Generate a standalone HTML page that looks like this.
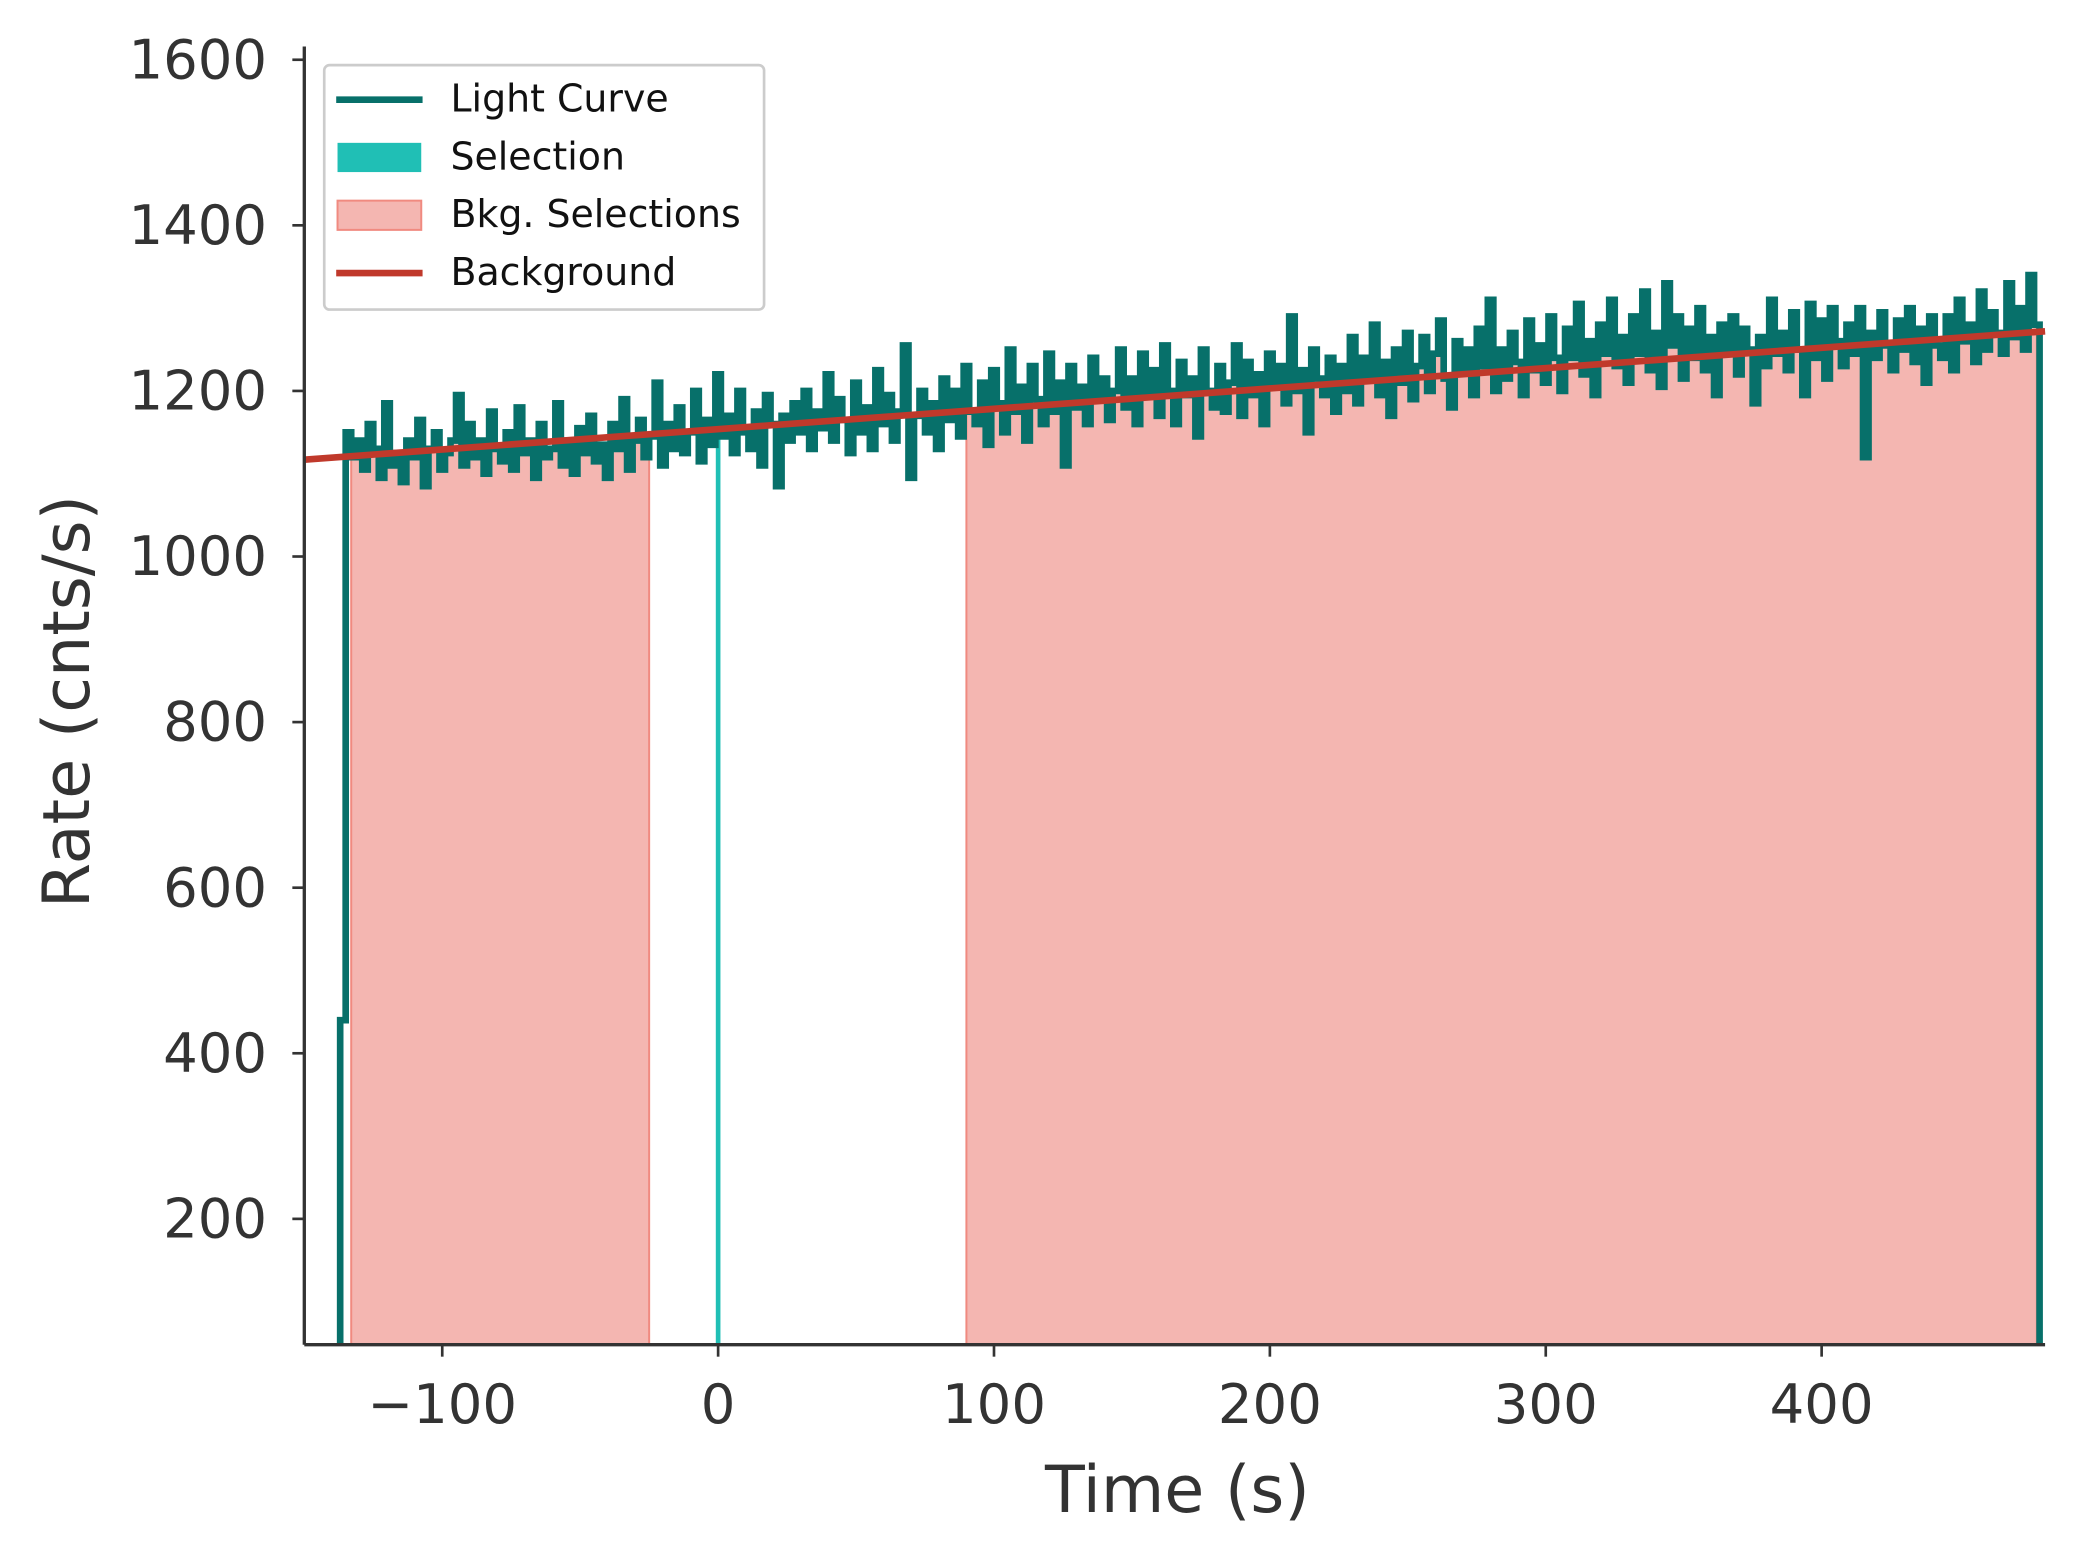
<!DOCTYPE html>
<html><head><meta charset="utf-8"><style>
html,body{margin:0;padding:0;background:#fff;}
svg{display:block;font-family:"DejaVu Sans","Liberation Sans",sans-serif;}
</style></head><body>
<svg id="chart" width="2073" height="1552" viewBox="0 0 1560 1168" preserveAspectRatio="none" xmlns="http://www.w3.org/2000/svg">
<g id="plot"></g>
<g id="axes"></g>
<g id="legend"></g>
</svg>
<script>
const startTime = -135;
const binWidth = 2;
const leadTime = -137;
const leadRate = 440;
const rates = [
1150,1120,1140,1105,1160,1130,1095,1185,1110,1125,
1090,1140,1120,1165,1085,1130,1150,1105,1125,1140,
1195,1110,1160,1120,1140,1100,1175,1130,1115,1150,
1105,1180,1125,1140,1095,1160,1120,1130,1185,1110,
1140,1100,1155,1125,1170,1115,1135,1095,1160,1130,
1190,1105,1140,1165,1120,1145,1210,1110,1160,1130,
1180,1125,1150,1200,1115,1165,1135,1220,1145,1170,
1125,1200,1150,1130,1175,1110,1195,1160,1085,1170,
1140,1185,1150,1200,1130,1175,1155,1220,1140,1190,
1165,1125,1210,1150,1180,1130,1225,1160,1195,1140,
1175,1255,1095,1170,1200,1150,1185,1130,1215,1165,
1200,1145,1230,1175,1160,1210,1135,1225,1185,1150,
1250,1175,1205,1140,1230,1190,1160,1245,1175,1210,
1110,1230,1180,1205,1160,1240,1190,1215,1165,1200,
1250,1180,1215,1160,1245,1195,1225,1170,1255,1200,
1160,1235,1195,1215,1145,1250,1200,1180,1230,1175,
1210,1255,1170,1235,1195,1220,1160,1245,1205,1230,
1185,1290,1200,1225,1150,1250,1215,1195,1240,1175,
1230,1200,1265,1185,1240,1215,1280,1195,1235,1170,
1250,1210,1270,1190,1230,1265,1200,1245,1285,1215,
1180,1260,1225,1250,1195,1275,1230,1310,1200,1250,
1215,1270,1235,1195,1285,1225,1255,1210,1290,1240,
1200,1275,1240,1305,1220,1260,1195,1280,1245,1310,
1230,1265,1210,1290,1245,1320,1225,1270,1205,1330,
1255,1290,1215,1275,1240,1300,1225,1265,1195,1280,
1245,1290,1220,1275,1250,1185,1265,1230,1310,1245,
1270,1225,1295,1250,1195,1305,1240,1285,1215,1300,
1260,1230,1280,1245,1300,1120,1270,1240,1295,1255,
1225,1285,1250,1300,1235,1275,1210,1290,1255,1240,
1290,1225,1310,1260,1280,1235,1320,1250,1295,1270,
1245,1330,1265,1300,1250,1340,1280];
const bkgSelections = [[-133,-25],[90,478]];
const selectionTime = [0];
const backgroundLine = [[-150,1117],[481,1272]];
const xTicks = [-100,0,100,200,300,400];
const xTickLabels = ["\u2212100","0","100","200","300","400"];
const yTicks = [200,400,600,800,1000,1200,1400,1600];
const yTickLabels = ["200","400","600","800","1000","1200","1400","1600"];

const L=229,R=1539,B=1012,T=35;
const xMin=-150,xMax=481,yMin=48,yMax=1616;
const X=t=>L+(t-xMin)/(xMax-xMin)*(R-L);
const Y=v=>B-(v-yMin)/(yMax-yMin)*(B-T);
const NS="http://www.w3.org/2000/svg";
function mk(tag,attrs,parent){const e=document.createElementNS(NS,tag);for(const k in attrs)e.setAttribute(k,attrs[k]);parent.appendChild(e);return e;}
const plot=document.getElementById('plot'),axes=document.getElementById('axes'),leg=document.getElementById('legend');
const endTime=startTime+rates.length*binWidth;

function rateAt(t){if(t<startTime)return leadRate;const i=Math.min(rates.length-1,Math.floor((t-startTime)/binWidth));return rates[i];}
bkgSelections.forEach((r,k)=>{
  let a=r[0],b=Math.min(r[1],endTime);
  let d='M'+X(a)+','+Y(yMin)+' L'+X(a)+','+Y(rateAt(a));
  let t=a;
  while(t<b){
    let next=t<startTime?startTime:startTime+(Math.floor((t-startTime)/binWidth)+1)*binWidth;
    if(next>b)next=b;
    d+=' L'+X(t)+','+Y(rateAt(t))+' L'+X(next)+','+Y(rateAt(t));
    t=next;
  }
  d+=' L'+X(b)+','+Y(yMin)+'Z';
  const p=mk('path',{d:d,fill:'#f4b6b1',stroke:'#f08a80','stroke-width':1.5},plot);
  
  
});
selectionTime.forEach(s=>{
  const l=mk('line',{x1:X(s),x2:X(s),y1:Y(yMin),y2:Y(rateAt(s)),stroke:'#20bfb5','stroke-width':3.5},plot);
  
  
});
let d='M'+X(leadTime)+','+Y(yMin)+' L'+X(leadTime)+','+Y(leadRate)+' L'+X(startTime)+','+Y(leadRate);
rates.forEach((v,i)=>{const t=startTime+i*binWidth;d+=' L'+X(t)+','+Y(v)+' L'+X(t+binWidth)+','+Y(v);});
d+=' L'+X(endTime)+','+Y(yMin);
const lc=mk('path',{d:d,fill:'none',stroke:'#07706a','stroke-width':5,'stroke-linejoin':'miter'},plot);


const bl=mk('line',{x1:X(backgroundLine[0][0]),y1:Y(backgroundLine[0][1]),x2:X(backgroundLine[1][0]),y2:Y(backgroundLine[1][1]),stroke:'#c0392b','stroke-width':5},plot);



const sp1=mk('line',{x1:L,x2:L,y1:T,y2:B,stroke:'#333','stroke-width':2.5},axes);


const sp2=mk('line',{x1:L,x2:R,y1:B,y2:B,stroke:'#333','stroke-width':2.5},axes);


xTicks.forEach((t,i)=>{
  mk('line',{x1:X(t),x2:X(t),y1:B,y2:B+9,stroke:'#333','stroke-width':2},axes);
  const tx=mk('text',{x:X(t),y:B+59,'text-anchor':'middle','font-size':41,fill:'#333'},axes);
  tx.textContent=xTickLabels[i];
  
  
});
yTicks.forEach((v,i)=>{
  mk('line',{x1:L-9,x2:L,y1:Y(v),y2:Y(v),stroke:'#333','stroke-width':2},axes);
  const tx=mk('text',{x:L-28,y:Y(v)+14,'text-anchor':'end','font-size':41,fill:'#333'},axes);
  tx.textContent=yTickLabels[i];
  
  
});
const xl=mk('text',{x:886,y:1138,'text-anchor':'middle','font-size':49,fill:'#333'},axes);
xl.textContent='Time (s)';


const yl=mk('text',{x:0,y:0,'text-anchor':'middle','font-size':49,fill:'#333',transform:'translate(67,528) rotate(-90)'},axes);
yl.textContent='Rate (cnts/s)';



const box=mk('rect',{x:244,y:49,width:331,height:184,rx:4,fill:'#fff','fill-opacity':0.85,stroke:'#ccc','stroke-width':2},leg);


const entries=[['Light Curve','line','#07706a'],['Selection','patch','#20bfb5'],['Bkg. Selections','patchb','#f4b6b1'],['Background','line','#c0392b']];
entries.forEach((e,i)=>{
  const y=75+i*43.5;
  const g=mk('g',{},leg);
  
  
  if(e[1]==='line')mk('line',{x1:253,x2:318,y1:y,y2:y,stroke:e[2],'stroke-width':5},g);
  else mk('rect',{x:254,y:y-11,width:63,height:22,fill:e[2],stroke:e[1]==='patchb'?'#f08a80':'none','stroke-width':1.5},g);
  const t=mk('text',{x:339,y:y+9,'font-size':28.5,fill:'#111'},g);
  t.textContent=e[0];
});
</script>
</body></html>
